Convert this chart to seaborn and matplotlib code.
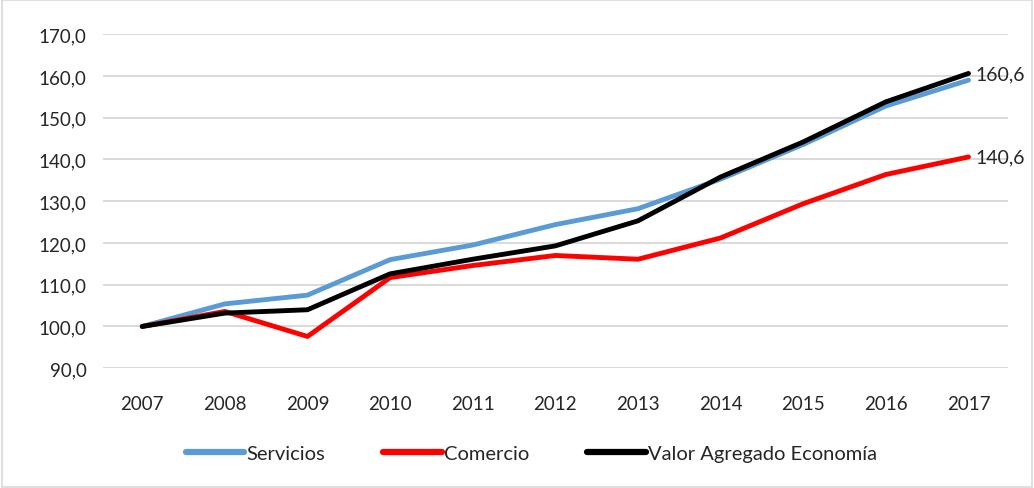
import matplotlib
matplotlib.use("Agg")
import matplotlib.pyplot as plt
import matplotlib.patches as mpatches
import seaborn as sns
import pandas as pd

# -------------------------------
# DATA (index 2007 = 100)
# -------------------------------
years = [2007, 2008, 2009, 2010, 2011, 2012, 2013, 2014, 2015, 2016, 2017]
servicios = [100.0, 105.4, 107.5, 116.0, 119.5, 124.4, 128.2, 135.3, 143.6, 152.8, 159.0]
comercio = [100.0, 103.6, 97.6, 111.7, 114.6, 117.0, 116.1, 121.2, 129.4, 136.4, 140.6]
valor_agregado = [100.0, 103.2, 104.0, 112.6, 116.1, 119.3, 125.3, 135.8, 144.2, 153.8, 160.6]

series_names = ["Servicios", "Comercio", "Valor Agregado Economía"]
colors = ["#5B9BD5", "#FF0000", "#000000"]

df = pd.DataFrame({
    "year": years * 3,
    "value": servicios + comercio + valor_agregado,
    "serie": [s for s in series_names for _ in years],
})

sns.set_theme(style="white")
plt.rcParams["font.family"] = ["Lato", "DejaVu Sans"]

fig = plt.figure(figsize=(10.34, 4.89), dpi=100)
ax = fig.add_axes([0.1, 0.245, 0.875, 0.683])

sns.lineplot(data=df, x="year", y="value", hue="serie", hue_order=series_names,
             palette=colors, linewidth=3.5, ax=ax, legend=True)

# end labels
for vals in [valor_agregado, comercio]:
    ax.text(years[-1] + 0.08, vals[-1], f"{vals[-1]:.1f}".replace(".", ","),
            va="center", ha="left", fontsize=14, color="#262626")

ax.set_xlim(years[0] - 0.47, years[-1] + 0.48)
ax.set_ylim(90, 170)
ax.set_yticks(range(90, 171, 10))
ax.set_yticklabels([f"{v:.1f}".replace(".", ",") for v in range(90, 171, 10)])
ax.set_xticks(years)
ax.set_xticklabels([str(y) for y in years])
ax.tick_params(axis="both", labelsize=13.5, colors="#262626", length=0)
ax.tick_params(axis="x", pad=19)
ax.tick_params(axis="y", pad=12)
ax.yaxis.grid(True, color="#d9d9d9", linewidth=1.4)
ax.set_axisbelow(True)
for s in ax.spines.values():
    s.set_visible(False)
ax.set_xlabel("")
ax.set_ylabel("")

handles, labels = ax.get_legend_handles_labels()
for h in handles:
    h.set_linewidth(4.5)
ax.legend(handles, labels, loc="upper center", bbox_to_anchor=(0.473, -0.175),
          ncol=3, frameon=False, fontsize=14.5, handlelength=2.9,
          handletextpad=0.1, columnspacing=2.9)

# outer border
fig.patches.append(mpatches.Rectangle((0.002, 0.003), 0.996, 0.994, transform=fig.transFigure,
                                      fill=False, edgecolor="#d9d9d9", linewidth=1.2))

fig.savefig("out.png", dpi=100)
